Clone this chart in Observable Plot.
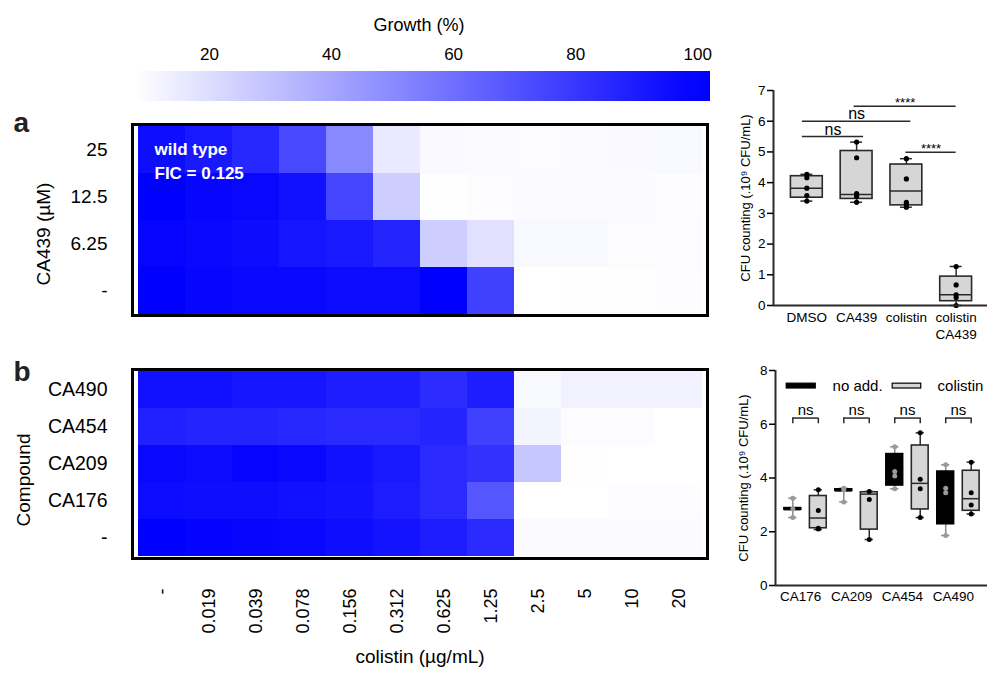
<!DOCTYPE html>
<html>
<head>
<meta charset="utf-8">
<script src="https://cdn.jsdelivr.net/npm/d3@7"></script>
<script src="https://cdn.jsdelivr.net/npm/@observablehq/plot@0.6"></script>
<style>
  body { margin: 0; background: #fff; }
  #fig { position: relative; width: 987px; height: 678px; overflow: hidden; background: #fff;
         font-family: "Liberation Sans", Arial, Helvetica, sans-serif; }
</style>
</head>
<body>
<div id="fig"></div>
<script>
// ---------------- DATA ----------------
const colistinDoses = ["-", "0.019", "0.039", "0.078", "0.156", "0.312", "0.625", "1.25", "2.5", "5", "10", "20"];
const ca439Doses = ["25", "12.5", "6.25", "-"];
const compounds = ["CA490", "CA454", "CA209", "CA176", "-"];
const legendTicks = [20, 40, 60, 80, 100];

// panel a: growth (%) per CA439 dose row (wild type)
const growthA_25   = [95, 91, 86, 74, 51, 16, 10, 9.5, 9, 9.5, 10, 10.5];
const growthA_12_5 = [100, 98, 97, 94, 75, 26, 8.5, 9, 9.3, 9.3, 9.7, 8.8];
const growthA_6_25 = [98.5, 97, 95.7, 92.5, 91, 87, 26, 19, 10.5, 10.5, 9, 9];
const growthA_none = [100, 98, 97, 97, 96, 96, 100, 77, 8, 8.4, 8.4, 8.7];

// panel b: growth (%) per compound row
const growthB_CA490 = [94, 94, 92.5, 92.5, 89.5, 89.5, 84, 89.5, 10.5, 13, 13, 13];
const growthB_CA454 = [88, 87, 87, 86, 85, 85, 87, 77, 12, 9, 9, 8];
const growthB_CA209 = [97, 96, 98.5, 97, 94, 91, 85, 82, 29, 8.5, 8, 8];
const growthB_CA176 = [96, 95, 95, 94, 93, 90, 85, 69, 8, 8, 8.7, 8.7];
const growthB_none  = [100, 99, 98, 97, 95, 93, 90, 85, 9.5, 9.5, 9.8, 9.8];

// top-right box plot (CFU, 10^9 CFU/mL)
const topGroups = ["DMSO", "CA439", "colistin", "colistin\nCA439"];
const topMin    = [3.40, 3.36, 3.20, 0.00];
const topQ1     = [3.51, 3.47, 3.26, 0.14];
const topMedian = [3.82, 3.61, 3.73, 0.35];
const topQ3     = [4.21, 5.03, 4.59, 0.94];
const topMax    = [4.27, 5.32, 4.78, 1.27];
const topPoints = [
  [4.27, 4.16, 3.82, 3.58, 3.40],
  [5.32, 4.81, 3.64, 3.55, 3.36],
  [4.78, 4.12, 3.36, 3.30, 3.20],
  [1.27, 0.67, 0.35, 0.26, 0.00]
];
const topYTicks = [0, 1, 2, 3, 4, 5, 6, 7];
// significance bars: from, to (x in group units), height, label
const sigFrom  = [-0.09, -0.09, 0.95, 1.99];
const sigTo    = [1.14, 2.09, 3.0, 3.0];
const sigY     = [5.5, 6.0, 6.49, 4.99];
const sigLabel = ["ns", "ns", "****", "****"];

// bottom-right box plot
const botGroups = ["CA176", "CA209", "CA454", "CA490"];
const noAddMin    = [2.53, 3.11, 3.60, 1.86];
const noAddQ1     = [2.82, 3.52, 3.72, 2.28];
const noAddMedian = [2.85, 3.55, 4.15, 3.50];
const noAddQ3     = [2.88, 3.58, 4.89, 4.24];
const noAddMax    = [3.25, 3.62, 5.16, 4.49];
const noAddPoints = [[3.25, 2.85, 2.53], [3.62, 3.55, 3.11], [5.16, 4.24, 4.07, 3.60], [4.49, 3.62, 3.45, 1.86]];
const colMin    = [2.08, 1.71, 2.53, 2.66];
const colQ1     = [2.13, 2.08, 2.83, 2.78];
const colMedian = [2.51, 3.40, 3.80, 3.23];
const colQ3     = [3.33, 3.47, 5.21, 4.27];
const colMax    = [3.56, 3.50, 5.68, 4.59];
const colPoints = [[3.56, 2.79, 2.13, 2.10], [3.50, 3.20, 1.71], [5.68, 3.95, 3.60, 2.53], [4.59, 3.45, 3.00, 2.66]];
const botYTicks = [0, 2, 4, 6, 8];
const nsTop = 6.23, nsLeg = 6.02;

// ---------------- HELPERS ----------------
const FONT = '"Liberation Sans", Arial, Helvetica, sans-serif';
const fig = document.getElementById("fig");
function place(el, left, top) {
  el.style.position = "absolute";
  el.style.left = left + "px";
  el.style.top = top + "px";
  el.style.maxWidth = "none";
  fig.appendChild(el);
}
const style = {fontFamily: FONT, background: "none", overflow: "visible", color: "#000"};
const colorOpts = {type: "linear", domain: [8, 100], range: ["#ffffff", "#0000ff"], interpolate: "rgb", clamp: true};

// ---------------- COLOR LEGEND ----------------
const legendDomain = [8.2, 102.1];
const legendPlot = Plot.plot({
  width: 715, height: 105,
  marginLeft: 137, marginRight: 5, marginTop: 71, marginBottom: 4,
  style,
  x: {domain: legendDomain},
  marks: [
    Plot.rect([legendDomain], {x1: d => d[0], x2: d => d[1], fill: "url(#growthRamp)"}),
    Plot.axisX(legendTicks, {anchor: "top", tickSize: 0, tickPadding: 12, fontSize: 17, label: null}),
    Plot.text(["Growth (%)"], {frameAnchor: "top", dx: -5, dy: -53, fontSize: 18})
  ]
});
{
  const ramp = d3.scaleLinear().domain(colorOpts.domain).range(colorOpts.range).interpolate(d3.interpolateRgb).clamp(true);
  const g = d3.select(legendPlot).append("defs").append("linearGradient")
    .attr("id", "growthRamp").attr("x1", "0").attr("x2", "1").attr("y1", "0").attr("y2", "0");
  d3.range(0, 1.0001, 0.05).forEach(t => {
    const v = legendDomain[0] + t * (legendDomain[1] - legendDomain[0]);
    g.append("stop").attr("offset", t).attr("stop-color", ramp(v));
  });
  d3.select(legendPlot).selectAll("rect").attr("fill", "url(#growthRamp)");
}
place(legendPlot, 0, 0);

// ---------------- HEATMAP A ----------------
const rowsA = [growthA_25, growthA_12_5, growthA_6_25, growthA_none];
const cellsA = ca439Doses.flatMap((r, i) => colistinDoses.map((c, j) => ({row: r, col: c, g: rowsA[i][j]})));
const heatA = Plot.plot({
  width: 710, height: 225,
  marginLeft: 132, marginRight: 3, marginTop: 24, marginBottom: 10,
  style,
  x: {domain: colistinDoses, padding: 0, axis: null},
  y: {domain: ca439Doses, padding: 0},
  color: colorOpts,
  marks: [
    Plot.cell(cellsA, {x: "col", y: "row", fill: "g", inset: 0, shapeRendering: "crispEdges"}),
    Plot.frame({stroke: "#000", strokeWidth: 3}),
    Plot.axisY({tickSize: 0, tickPadding: 25, fontSize: 19, label: null}),
    Plot.text(["CA439 (µM)"], {frameAnchor: "left", textAnchor: "middle", rotate: -90, dx: -89, dy: 14, fontSize: 19}),
    Plot.text(["wild type\nFIC = 0.125"], {frameAnchor: "top-left", textAnchor: "start", lineAnchor: "top",
      dx: 22, dy: 14, fill: "white", fontWeight: "bold", fontSize: 17, lineHeight: 1.4}),
    Plot.text(["a"], {frameAnchor: "top-left", textAnchor: "start", dx: -119, dy: -12, fontSize: 28, fontWeight: "bold", fill: "#222"})
  ]
});
place(heatA, 0, 100);

// ---------------- HEATMAP B ----------------
const rowsB = [growthB_CA490, growthB_CA454, growthB_CA209, growthB_CA176, growthB_none];
const cellsB = compounds.flatMap((r, i) => colistinDoses.map((c, j) => ({row: r, col: c, g: rowsB[i][j]})));
const heatB = Plot.plot({
  width: 710, height: 338,
  marginLeft: 132, marginRight: 3, marginTop: 29, marginBottom: 120,
  style,
  x: {domain: colistinDoses, padding: 0},
  y: {domain: compounds, padding: 0},
  color: colorOpts,
  marks: [
    Plot.cell(cellsB, {x: "col", y: "row", fill: "g", inset: 0, shapeRendering: "crispEdges"}),
    Plot.frame({stroke: "#000", strokeWidth: 3}),
    Plot.axisY({tickSize: 0, tickPadding: 25, fontSize: 19.5, label: null}),
    Plot.axisX({tickSize: 0, tickPadding: 30, tickRotate: -90, fontSize: 18, label: null}),
    Plot.text(["Compound"], {frameAnchor: "left", textAnchor: "middle", rotate: -90, dx: -109, dy: 16, fontSize: 19}),
    Plot.text(["colistin (µg/mL)"], {frameAnchor: "bottom", dy: 104, fontSize: 19}),
    Plot.text(["b"], {frameAnchor: "top-left", textAnchor: "start", dx: -119, dy: -8, fontSize: 28, fontWeight: "bold", fill: "#222"})
  ]
});
place(heatB, 0, 340);

// ---------------- TOP BOX PLOT ----------------
const topStats = topGroups.map((g, i) => ({i, min: topMin[i], q1: topQ1[i], med: topMedian[i], q3: topQ3[i], max: topMax[i]}));
const topDots = topPoints.flatMap((vals, i) => vals.map(v => ({i, v})));
const topSig = sigLabel.map((l, k) => ({from: sigFrom[k], to: sigTo[k], y: sigY[k], label: l}));
const topX = [-0.67, 3.63];
const bw = 0.32, cw = 0.12;
const ink = "#2a2a2a";
const boxTop = Plot.plot({
  width: 287, height: 270,
  marginLeft: 73, marginRight: 0, marginTop: 10, marginBottom: 45,
  style,
  x: {domain: topX},
  y: {domain: [0, 7]},
  marks: [
    Plot.ruleX(topStats, {x: "i", y1: "min", y2: "max", stroke: ink, strokeWidth: 1.5}),
    Plot.ruleY(topStats, {y: "max", x1: d => d.i - cw, x2: d => d.i + cw, stroke: ink, strokeWidth: 1.5}),
    Plot.ruleY(topStats, {y: "min", x1: d => d.i - cw, x2: d => d.i + cw, stroke: ink, strokeWidth: 1.5}),
    Plot.rect(topStats, {x1: d => d.i - bw, x2: d => d.i + bw, y1: "q1", y2: "q3", fill: "#d6d6d6", stroke: ink, strokeWidth: 1.6}),
    Plot.ruleY(topStats, {y: "med", x1: d => d.i - bw, x2: d => d.i + bw, stroke: ink, strokeWidth: 1.5}),
    Plot.dot(topDots, {x: "i", y: "v", r: 2.6, fill: "#000", stroke: "none"}),
    Plot.ruleY(topSig, {y: "y", x1: "from", x2: "to", stroke: ink, strokeWidth: 1.5}),
    Plot.text(topSig.filter(d => d.label === "ns"), {x: d => (d.from + d.to) / 2, y: "y", text: "label", dy: -7, fontSize: 16}),
    Plot.text(topSig.filter(d => d.label !== "ns"), {x: d => (d.from + d.to) / 2, y: "y", text: "label", dy: -3.5, fontSize: 13}),
    Plot.ruleX([topX[0]], {stroke: ink, strokeWidth: 2}),
    Plot.ruleY([0], {stroke: ink, strokeWidth: 2}),
    Plot.axisY(topYTicks, {tickSize: 6, tickPadding: 2, fontSize: 13.5, label: null, strokeWidth: 1.5}),
    Plot.axisX([0, 1, 2, 3], {tickSize: 0, tickPadding: 5, fontSize: 13.5, label: null, lineHeight: 1.25, tickFormat: i => topGroups[i]}),
    Plot.text(["CFU counting (.10⁹ CFU/mL)"], {frameAnchor: "left", textAnchor: "middle", rotate: -90, dx: -28, fontSize: 13})
  ]
});
place(boxTop, 700, 80);

// ---------------- BOTTOM BOX PLOT ----------------
const off = 0.25, bw2 = 0.165, cw2 = 0.08;
const botStats = botGroups.flatMap((g, i) => [
  {x: i - off, kind: "no add.", min: noAddMin[i], q1: noAddQ1[i], med: noAddMedian[i], q3: noAddQ3[i], max: noAddMax[i]},
  {x: i + off, kind: "colistin", min: colMin[i], q1: colQ1[i], med: colMedian[i], q3: colQ3[i], max: colMax[i]}
]);
const botDots = botGroups.flatMap((g, i) => [
  ...noAddPoints[i].map(v => ({x: i - off, v, kind: "no add."})),
  ...colPoints[i].map(v => ({x: i + off, v, kind: "colistin"}))
]);
const whiskerColor = d => d.kind === "no add." ? "#8a8a8a" : ink;
const botX = [-0.59, 3.57];
const legendY = [7.33, 7.51];
const legendItems = [
  {label: "no add.", x1: -0.37, x2: 0.2, fill: "#000", tx: 0.53},
  {label: "colistin", x1: 1.71, x2: 2.27, fill: "#d6d6d6", tx: 2.59}
];
const boxBot = Plot.plot({
  width: 287, height: 270,
  marginLeft: 75, marginRight: 0, marginTop: 10, marginBottom: 45,
  style,
  x: {domain: botX},
  y: {domain: [0, 8]},
  marks: [
    Plot.ruleX(botStats, {x: "x", y1: "min", y2: "max", stroke: whiskerColor, strokeWidth: 1.5}),
    Plot.ruleY(botStats, {y: "max", x1: d => d.x - cw2, x2: d => d.x + cw2, stroke: whiskerColor, strokeWidth: 1.5}),
    Plot.ruleY(botStats, {y: "min", x1: d => d.x - cw2, x2: d => d.x + cw2, stroke: whiskerColor, strokeWidth: 1.5}),
    Plot.rect(botStats, {x1: d => d.x - bw2, x2: d => d.x + bw2, y1: "q1", y2: "q3",
      fill: d => d.kind === "no add." ? "#000" : "#d6d6d6", stroke: d => d.kind === "no add." ? "#000" : ink, strokeWidth: 1.6}),
    Plot.ruleY(botStats, {y: "med", x1: d => d.x - bw2, x2: d => d.x + bw2, stroke: d => d.kind === "no add." ? "#000" : ink,
      strokeWidth: d => d.kind === "no add." ? 3 : 1.5}),
    Plot.dot(botDots, {x: "x", y: "v", r: 2.5, fill: d => d.kind === "no add." ? "#9a9a9a" : "#000", stroke: "none"}),
    // ns brackets
    Plot.ruleY(botGroups, {y: nsTop, x1: (d, i) => i - off, x2: (d, i) => i + off, stroke: ink, strokeWidth: 1.5}),
    Plot.ruleX(botGroups, {x: (d, i) => i - off, y1: nsLeg, y2: nsTop, stroke: ink, strokeWidth: 1.5}),
    Plot.ruleX(botGroups, {x: (d, i) => i + off, y1: nsLeg, y2: nsTop, stroke: ink, strokeWidth: 1.5}),
    Plot.text(botGroups, {x: (d, i) => i, y: nsTop, text: () => "ns", dy: -7.5, fontSize: 15}),
    // legend
    Plot.rect(legendItems, {x1: "x1", x2: "x2", y1: legendY[0], y2: legendY[1], fill: "fill", stroke: "#000", strokeWidth: 1.2}),
    Plot.text(legendItems, {x: "tx", y: (legendY[0] + legendY[1]) / 2, text: "label", textAnchor: "start", fontSize: 15}),
    // axes
    Plot.ruleX([botX[0]], {stroke: ink, strokeWidth: 2}),
    Plot.ruleY([0], {stroke: ink, strokeWidth: 2}),
    Plot.axisY(botYTicks, {tickSize: 6, tickPadding: 2, fontSize: 13.5, label: null, strokeWidth: 1.5}),
    Plot.axisX([0, 1, 2, 3], {tickSize: 0, tickPadding: 6, fontSize: 13.5, label: null, dx: -5, tickFormat: i => botGroups[i]}),
    Plot.text(["CFU counting (.10⁹ CFU/mL)"], {frameAnchor: "left", textAnchor: "middle", rotate: -90, dx: -32, fontSize: 13})
  ]
});
place(boxBot, 700, 360);
</script>
</body>
</html>
